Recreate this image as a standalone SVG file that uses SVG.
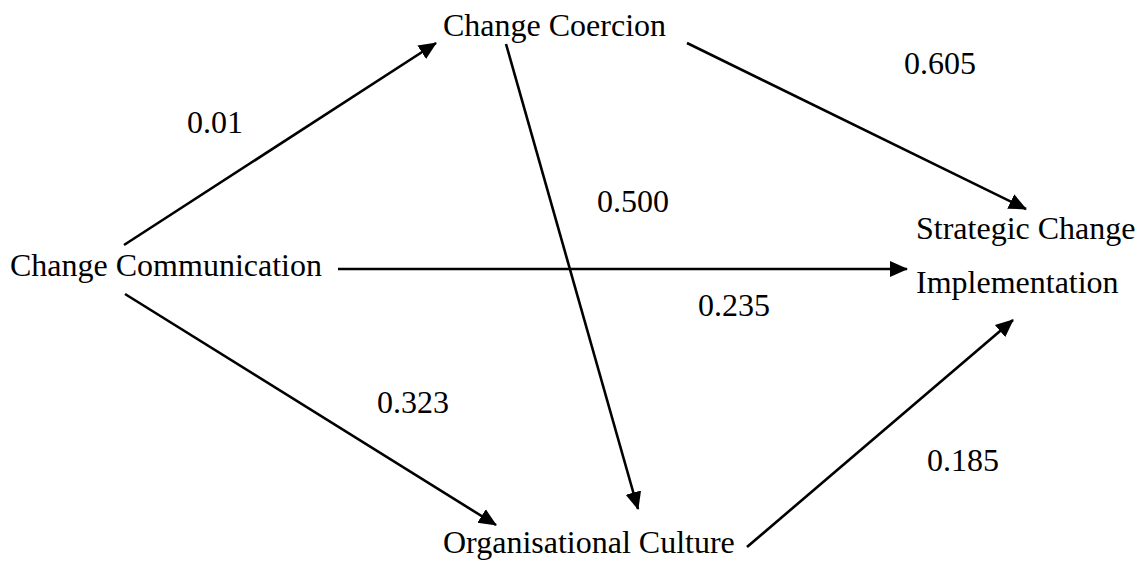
<svg xmlns="http://www.w3.org/2000/svg" width="1144" height="563" viewBox="0 0 1144 563">
<style>
.t{font-family:'Liberation Serif',serif;font-size:32px;fill:#000}
.c{stroke:#000;stroke-width:2.6;fill:none}
</style>
<defs>
<marker id="ah" markerUnits="userSpaceOnUse" markerWidth="18" markerHeight="18" refX="17" refY="8" orient="auto" viewBox="0 0 18 16">
<path d="M0,0 L18,8 L0,16 z" fill="#000"/>
</marker>
</defs>
<rect width="1144" height="563" fill="#fff"/>
<g id="connectors">
<line class="c" x1="124" y1="245" x2="436" y2="43" marker-end="url(#ah)"/>
<line class="c" x1="506" y1="44" x2="638" y2="509" marker-end="url(#ah)"/>
<line class="c" x1="338" y1="269" x2="907" y2="269" marker-end="url(#ah)"/>
<line class="c" x1="125" y1="294" x2="496" y2="525" marker-end="url(#ah)"/>
<line class="c" x1="687" y1="43" x2="1026" y2="209" marker-end="url(#ah)"/>
<line class="c" x1="747" y1="547" x2="1013" y2="320" marker-end="url(#ah)"/>
</g>
<g id="labels" font-family="Liberation Serif, serif">
<text class="t" x="187" y="133">0.01</text>
<text class="t" x="597" y="212">0.500</text>
<text class="t" x="698" y="316">0.235</text>
<text class="t" x="904" y="74">0.605</text>
<text class="t" x="377" y="413">0.323</text>
<text class="t" x="927" y="471">0.185</text>
</g>
<g id="change-coercion"><text class="t" x="443" y="36">Change Coercion</text></g>
<g id="change-communication"><text class="t" x="10" y="276">Change Communication</text></g>
<g id="strategic-change"><text class="t" x="916" y="239">Strategic Change</text><text class="t" x="916" y="293">Implementation</text></g>
<g id="organisational-culture"><text class="t" x="443" y="553">Organisational Culture</text></g>
</svg>
